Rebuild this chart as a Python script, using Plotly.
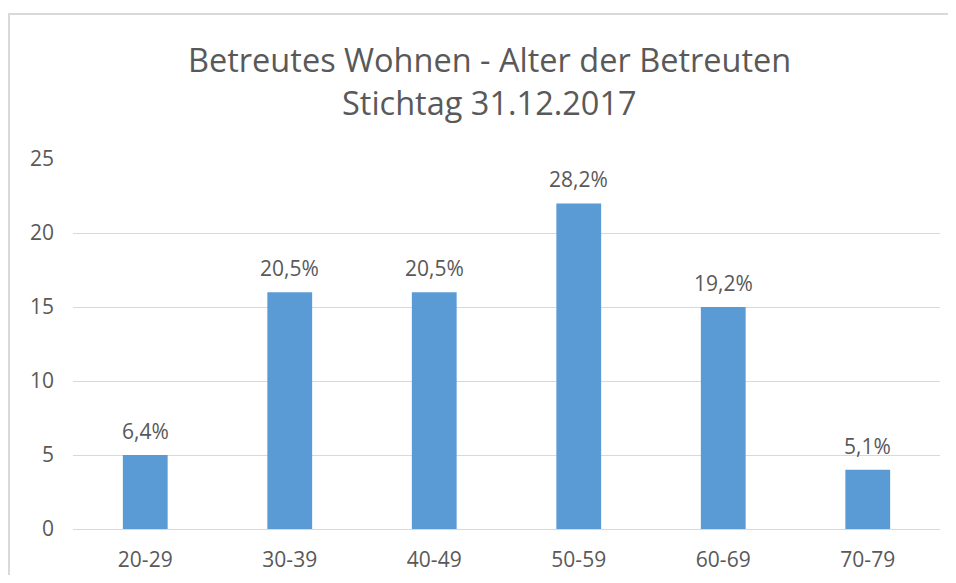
import plotly.graph_objects as go

categories = ["20-29", "30-39", "40-49", "50-59", "60-69", "70-79"]
values = [5, 16, 16, 22, 15, 4]
pct_labels = ["6,4%", "20,5%", "20,5%", "28,2%", "19,2%", "5,1%"]
y_ticks = [0, 5, 10, 15, 20, 25]

# page body has an 8px margin, so the figure is 16px smaller than the window
OFF = 8
W, H = 956 - 2 * OFF, 583 - 2 * OFF
L, R, T, B = 73 - OFF, W - (940 - OFF), 159 - OFF, H - (529 - OFF)
pw, ph = W - L - R, H - T - B

def px_x(x):
    return (x - OFF - L) / pw

def px_y(y):
    return (H - B - (y - OFF)) / ph

font = "Open Sans, Noto Sans, DejaVu Sans, sans-serif"
grey = "#595959"

fig = go.Figure(go.Bar(
    x=categories, y=values,
    marker=dict(color="#5b9bd5", line=dict(width=0)),
    hoverinfo="x+y",
))

annotations = [
    dict(text=t, x=c, y=v, xref="x", yref="y", showarrow=False,
         xanchor="center", yanchor="bottom", yshift=8,
         font=dict(size=21, color=grey, family=font))
    for c, v, t in zip(categories, values, pct_labels)
]
annotations += [
    dict(text="Betreutes Wohnen - Alter der Betreuten", xref="paper", yref="paper",
         x=px_x(489), y=px_y(59), showarrow=False, xanchor="center", yanchor="middle",
         font=dict(size=32.5, color=grey, family=font)),
    dict(text="Stichtag 31.12.2017", xref="paper", yref="paper",
         x=px_x(489), y=px_y(102), showarrow=False, xanchor="center", yanchor="middle",
         font=dict(size=32.5, color=grey, family=font)),
]

fig.update_layout(
    width=W, height=H,
    margin=dict(l=L, r=R, t=T, b=B, autoexpand=False),
    paper_bgcolor="white", plot_bgcolor="white",
    bargap=0.69,
    showlegend=False,
    font=dict(family=font, color=grey, size=21),
    xaxis=dict(showgrid=False, showline=False, ticks="", ticklabelstandoff=16,
               automargin=False, tickfont=dict(size=21, color=grey)),
    yaxis=dict(range=[0, 25], tickvals=y_ticks, showgrid=True, gridcolor="#d9d9d9",
               gridwidth=1, zeroline=True, zerolinecolor="#d9d9d9", zerolinewidth=1,
               automargin=False, ticks="", ticklabelstandoff=18,
               tickfont=dict(size=21, color=grey)),
    annotations=annotations,
    shapes=[
        dict(type="line", xref="paper", yref="paper", x0=px_x(9), x1=px_x(9),
             y0=px_y(14), y1=px_y(600), line=dict(color="#d9d9d9", width=2)),
        dict(type="line", xref="paper", yref="paper", x0=px_x(8), x1=px_x(960),
             y0=px_y(14), y1=px_y(14), line=dict(color="#d9d9d9", width=2)),
    ],
)

fig.write_html("out.html")
